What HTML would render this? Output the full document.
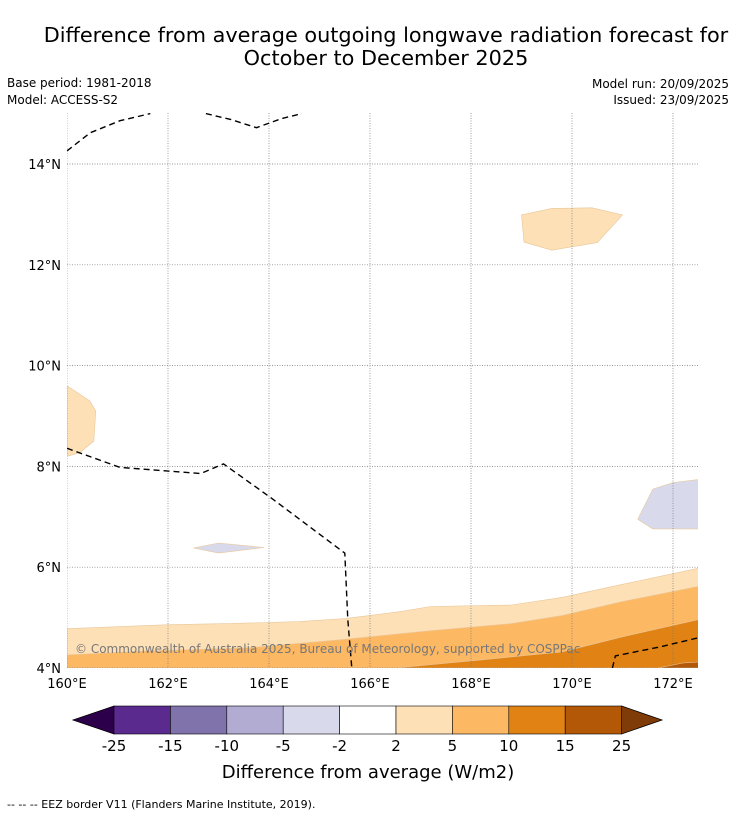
<!DOCTYPE html>
<html><head><meta charset="utf-8"><style>
body{margin:0;background:#fff;width:736px;height:816px;overflow:hidden;font-family:"DejaVu Sans","Liberation Sans",sans-serif}
</style></head><body>
<svg id="chart" width="736" height="816" xmlns="http://www.w3.org/2000/svg" font-family="DejaVu Sans, Liberation Sans, sans-serif">
<text x="386" y="42" font-size="20.8" text-anchor="middle">Difference from average outgoing longwave radiation forecast for</text>
<text x="386" y="65" font-size="20.8" text-anchor="middle">October to December 2025</text>
<text x="7" y="87" font-size="12">Base period: 1981-2018</text>
<text x="7" y="104" font-size="12">Model: ACCESS-S2</text>
<text x="729" y="88" font-size="12" text-anchor="end">Model run: 20/09/2025</text>
<text x="729" y="104" font-size="12" text-anchor="end">Issued: 23/09/2025</text>
<g id="map"></g>
<g id="cbar"></g>
<text x="368" y="778" font-size="18" text-anchor="middle">Difference from average (W/m2)</text>
<text x="7" y="808" font-size="11">-- -- -- EEZ border V11 (Flanders Marine Institute, 2019).</text>
</svg>
<script>
const lonTicks=[160,162,164,166,168,170,172];
const latTicks=[4,6,8,10,12,14];
const cbarBounds=["-25","-15","-10","-5","-2","2","5","10","15","25"];
const cbarColors=["#5b2a8e","#8073ac","#b2abd2","#d8daeb","#ffffff","#fee0b6","#fdb863","#e08214","#b35806"];
const band2=[[160,4.78],[161,4.82],[162,4.86],[163.2,4.88],[164.6,4.92],[165.5,4.98],[166.6,5.12],[167.2,5.22],[168.8,5.25],[169.8,5.4],[171,5.66],[172.5,5.98],[172.5,4],[160,4]];
const band5=[[160,4.26],[161.6,4.34],[163.6,4.4],[165.4,4.56],[166.6,4.68],[167.2,4.74],[168.8,4.88],[169.8,5.04],[171,5.32],[172.5,5.62],[172.5,4],[160,4]];
const band10=[[166.5,4],[168.2,4.16],[169.8,4.32],[171,4.62],[172.5,4.96],[172.5,4]];
const band15=[[171.7,4],[172.2,4.1],[172.5,4.12],[172.5,4]];
const blobTop=[[169.0,12.99],[169.6,13.12],[170.4,13.13],[171.0,12.99],[170.5,12.44],[169.6,12.29],[169.05,12.45]];
const blobLeft=[[160,9.6],[160.45,9.3],[160.57,9.1],[160.53,8.5],[160.25,8.27],[160,8.2]];
const blobPurple=[[162.5,6.38],[163,6.48],[163.9,6.39],[163,6.28]];
const blobRight=[[171.3,6.95],[171.6,7.55],[172.0,7.68],[172.5,7.74],[172.5,6.76],[171.6,6.76]];
const eez1=[[160,14.26],[160.46,14.62],[161.05,14.86],[161.65,15]];
const eez2=[[162.75,15],[163.25,14.88],[163.75,14.72],[164.25,14.9],[164.65,15]];
const eez3=[[160,8.36],[161.05,7.98],[162.65,7.86],[163.1,8.05],[164.05,7.37],[165.5,6.28],[165.56,4.96],[165.64,4]];
const eez4=[[170.8,4],[170.86,4.24],[171.75,4.42],[172.5,4.6]];
const X=l=>67+(l-160)*50.5, Y=a=>668-(a-4)*50.4;
const NS="http://www.w3.org/2000/svg";
const map=document.getElementById('map'), cb=document.getElementById('cbar');
function mk(p,tag,at){const e=document.createElementNS(NS,tag);for(const k in at)e.setAttribute(k,at[k]);p.appendChild(e);return e;}
const pts=a=>a.map(p=>X(p[0]).toFixed(1)+","+Y(p[1]).toFixed(1)).join(" ");
const cp=mk(map,'clipPath',{id:'mc'});mk(cp,'rect',{x:67,y:113,width:631,height:555});
const g=mk(map,'g',{'clip-path':'url(#mc)'});
[[band2,"#fee0b6","band-2-5"],[band5,"#fdb863","band-5-10"],[band10,"#e08214","band-10-15"],[band15,"#b35806","band-15-25"],[blobTop,"#fee0b6","blob-north"],[blobLeft,"#fee0b6","blob-west"],[blobPurple,"#d8daeb","blob-negative-small"],[blobRight,"#d8daeb","blob-negative-east"]].forEach(d=>{
const e=mk(g,'polygon',{points:pts(d[0]),fill:d[1],stroke:'#e8c79a','stroke-width':0.6});


});
lonTicks.forEach(l=>{const e=mk(g,'line',{x1:X(l),x2:X(l),y1:113,y2:668,stroke:'#777','stroke-width':0.7,'stroke-dasharray':'1,1.5'});

const t=mk(map,'text',{x:X(l),y:688,'font-size':13,'text-anchor':'middle'});t.textContent=l+"°E";
});
latTicks.forEach(a=>{const e=mk(g,'line',{x1:67,x2:698,y1:Y(a),y2:Y(a),stroke:'#777','stroke-width':0.7,'stroke-dasharray':'1,1.5'});

const t=mk(map,'text',{x:61,y:Y(a)+5,'font-size':13,'text-anchor':'end'});t.textContent=a+"°N";
});
[eez1,eez2,eez3,eez4].forEach(a=>{const e=mk(g,'polyline',{points:pts(a),fill:'none',stroke:'#000','stroke-width':1.4,'stroke-dasharray':'6,4'});
});
const cr=mk(map,'text',{x:75,y:653,'font-size':12,fill:'#777'});cr.textContent="© Commonwealth of Australia 2025, Bureau of Meteorology, supported by COSPPac";

const x0=114,w=56.4,y0=706,h=28;
const le=mk(cb,'polygon',{points:`73,720 ${x0},${y0} ${x0},${y0+h}`,fill:'#2d004b',stroke:'#000','stroke-width':0.8});

const re=mk(cb,'polygon',{points:`${x0+9*w},${y0} 662,720 ${x0+9*w},${y0+h}`,fill:'#7f3b08',stroke:'#000','stroke-width':0.8});

cbarColors.forEach((c,i)=>{const r=mk(cb,'rect',{x:x0+i*w,y:y0,width:w,height:h,fill:c,stroke:'#000','stroke-width':0.6});
});
cbarBounds.forEach((b,i)=>{const t=mk(cb,'text',{x:x0+i*w,y:751,'font-size':15,'text-anchor':'middle'});t.textContent=b;
});
</script>
</body></html>
